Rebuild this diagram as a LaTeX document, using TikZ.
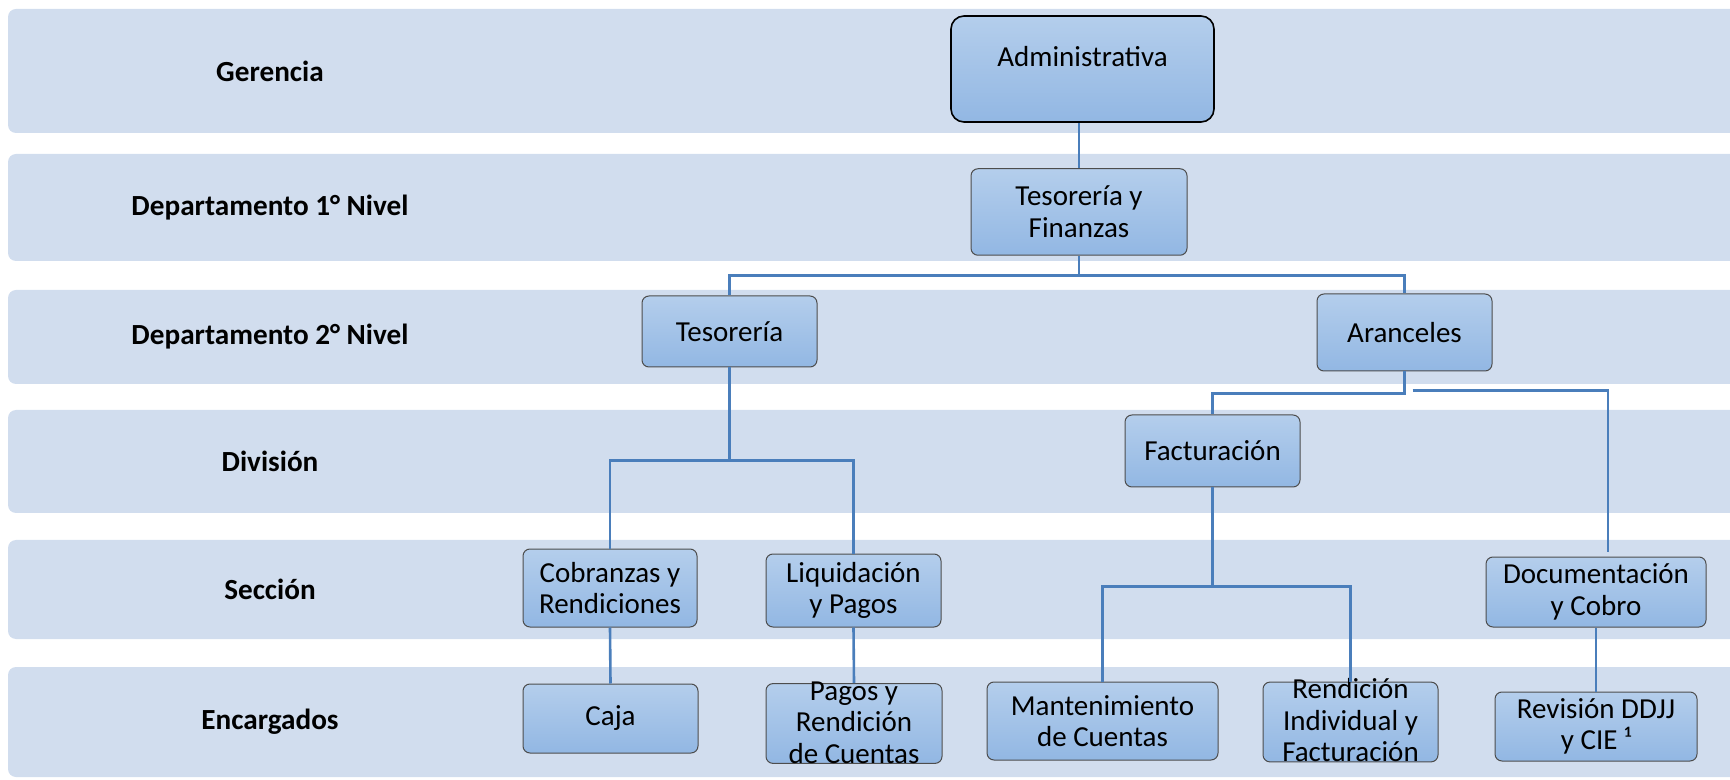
\documentclass[tikz,border=0pt]{standalone}
\usepackage{fontspec}
\setmainfont{Carlito}
\usetikzlibrary{calc}

\definecolor{bandblue}{RGB}{209,221,238}
\definecolor{boxtop}{RGB}{180,206,236}
\definecolor{boxbottom}{RGB}{146,183,227}
\definecolor{boxedge}{RGB}{77,77,77}
\definecolor{linkblue}{RGB}{74,126,187}

\tikzset{
	band/.style = {fill = bandblue, rounded corners = 4pt},
	levelname/.style = {font = \bfseries\fontsize{14.6}{17}\selectfont},
	orgbox/.style = {draw = boxedge, line width = 0.5pt, rounded corners = 3.5pt, top color = boxtop, bottom color = boxbottom, align = center, inner sep = 0pt, font = \fontsize{14.5}{15.8}\selectfont},
	overflow/.style = {text height = 39.9pt, text depth = -3.5pt},
	link/.style = {draw = linkblue, line width = 1.3pt}
}

\begin{document}
\begin{tikzpicture}[x = 0.5pt, y = -0.5pt]
	 \useasboundingbox (0, 0) rectangle (1730, 780);
	 
	 \begin{scope}
	 \clip (0, 0) rectangle (1730, 780);
	 \foreach \ya/\yb/\name [count = \i] in {9/133/Gerencia, 154/261/Departamento 1° Nivel, 290/384/Departamento 2° Nivel, 410/513/División, 540/639/Sección, 667/777/Encargados}
	 {
	 \fill[band] (8, \ya) rectangle (1750, \yb);
	 \node[levelname] (level\i) at (270, {(\ya + \yb)/2}) {\name};
	 }
	 \end{scope}
	 
	 \node[orgbox, draw = black, line width = 0.8pt, rounded corners = 6.5pt, minimum width = 131.5pt, minimum height = 53pt, text height = 10pt, text depth = 12pt] (admin) at (1082.5, 69) {Administrativa};
	 
	 \node[orgbox, minimum width = 108pt, minimum height = 43.25pt] (tyf) at (1079, 212) {Tesorería y\\Finanzas};
	 
	 \node[orgbox, minimum width = 87.5pt, minimum height = 35.5pt] (teso) at (729.5, 331.5) {Tesorería};
	 \node[orgbox, minimum width = 87.5pt, minimum height = 38.5pt] (aran) at (1404.5, 332.5) {Aranceles};
	 
	 \node[orgbox, minimum width = 87.5pt, minimum height = 36pt] (fact) at (1212.5, 451) {Facturación};
	 
	 \node[orgbox, minimum width = 87pt, minimum height = 39pt] (cob) at (610, 588) {Cobranzas y\\Rendiciones};
	 \node[orgbox, minimum width = 87.5pt, minimum height = 36.5pt] (liq) at (853.5, 590.5) {Liquidación\\y Pagos};
	 \node[orgbox, minimum width = 110pt, minimum height = 35pt] (doc) at (1596, 592) {Documentación\\y Cobro};
	 
	 \node[orgbox, minimum width = 87.5pt, minimum height = 34.5pt] (caja) at (610.5, 718.5) {Caja};
	 \node[orgbox, overflow, minimum width = 88pt, minimum height = 36.5pt] (pagos) at (854, 723.5) {Pagos y\\Rendición\\de Cuentas};
	 \node[orgbox, minimum width = 115.5pt, minimum height = 39pt] (mant) at (1102.5, 721) {Mantenimiento\\de Cuentas};
	 \node[orgbox, overflow, minimum width = 87.5pt, minimum height = 38pt] (rend) at (1350.5, 722) {Rendición\\Individual y\\Facturación};
	 \node[orgbox, minimum width = 101pt, minimum height = 34.5pt] (rev) at (1596, 726.5) {Revisión DDJJ\\y CIE ¹};
	 
	 \draw[link] (tyf.north) -- (tyf.north |- admin.south);
	 \draw[link] (tyf.south) -- ++(0, 20) coordinate (split1);
	 \draw[link] (teso.north) |- (split1) -| (aran.north);
	 
	 \draw[link] (teso.south) -- ++(0, 93) coordinate (split2);
	 \draw[link] (cob.north) |- (split2) -| (liq.north);
	 
	 \draw[link] (aran.south) -- ++(0, 22) -| (fact.north);
	 \draw[link] ($(aran.south) + (8, 19)$) -| ($(doc.north) + (12, -5)$);
	 
	 \draw[link] (fact.south) -- ++(0, 99) coordinate (split3);
	 \draw[link] (mant.north) |- (split3) -| (rend.north);
	 
	 \draw[link] (cob.south) -- (caja.north);
	 \draw[link] (liq.south) -- (pagos.north);
	 \draw[link] (doc.south) -- (rev.north);
\end{tikzpicture}
\end{document}
